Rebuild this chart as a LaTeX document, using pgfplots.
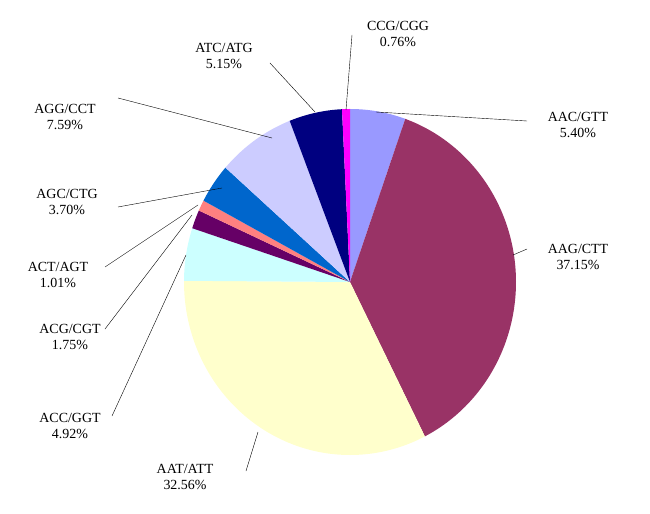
\documentclass[border=0pt]{standalone}
\usepackage{pgfplots}
\pgfplotsset{compat=1.18}
\usepackage{fontspec}
\setmainfont{Liberation Serif}
\definecolor{cAAC}{HTML}{9999FF}
\definecolor{cAAG}{HTML}{993366}
\definecolor{cAAT}{HTML}{FFFFCC}
\definecolor{cACC}{HTML}{CCFFFF}
\definecolor{cACG}{HTML}{660066}
\definecolor{cACT}{HTML}{FF8080}
\definecolor{cAGC}{HTML}{0066CC}
\definecolor{cAGG}{HTML}{CCCCFF}
\definecolor{cATC}{HTML}{000080}
\definecolor{cCCG}{HTML}{FF00FF}
\begin{document}
\begin{tikzpicture}[x=1bp,y=1bp]
\begin{axis}[width=650bp,height=513bp,scale only axis,xmin=0,xmax=650,ymin=0,ymax=513,
  axis lines=none,clip=false]
\path[draw=none] (axis cs:0,0) rectangle (axis cs:650,513);
\newcommand{\slice}[3]{\addplot[fill=#1,draw=none,domain=#2:#3,samples=60,smooth]
  ({350+166*cos(x)},{231+173*sin(x)}) -- (axis cs:350,231) -- cycle;}
\slice{cAAC}{70.56}{90}
\slice{cAAG}{-63.18}{70.56}
\slice{cAAT}{-180.40}{-63.18}
\slice{cACC}{-198.11}{-180.40}
\slice{cACG}{-204.41}{-198.11}
\slice{cACT}{-208.05}{-204.41}
\slice{cAGC}{-221.37}{-208.05}
\slice{cAGG}{-248.69}{-221.37}
\slice{cATC}{-267.23}{-248.69}
\slice{cCCG}{-270}{-267.23}
\begin{scope}[font=\fontsize{14}{17}\selectfont,align=center]
\node at (axis cs:398,479) {CCG/CGG\\0.76\%};
\node at (axis cs:224,457) {ATC/ATG\\5.15\%};
\node at (axis cs:65,396) {AGG/CCT\\7.59\%};
\node at (axis cs:67,311) {AGC/CTG\\3.70\%};
\node at (axis cs:58,238) {ACT/AGT\\1.01\%};
\node at (axis cs:70,176) {ACG/CGT\\1.75\%};
\node at (axis cs:70,87) {ACC/GGT\\4.92\%};
\node at (axis cs:185,36) {AAT/ATT\\32.56\%};
\node at (axis cs:578,388) {AAC/GTT\\5.40\%};
\node at (axis cs:578,256) {AAG/CTT\\37.15\%};
\end{scope}
\draw (axis cs:346,403)--(axis cs:352,478);
\draw (axis cs:315,401)--(axis cs:270,450);
\draw (axis cs:272,375)--(axis cs:118,415);
\draw (axis cs:222,325)--(axis cs:118,306);
\draw (axis cs:198,308)--(axis cs:105,246);
\draw (axis cs:192,298)--(axis cs:105,184);
\draw (axis cs:186,258)--(axis cs:112,97);
\draw (axis cs:258,81)--(axis cs:246,42);
\draw (axis cs:376,401)--(axis cs:527,392);
\draw (axis cs:513,258)--(axis cs:527,264);
\end{axis}
\end{tikzpicture}
\end{document}
